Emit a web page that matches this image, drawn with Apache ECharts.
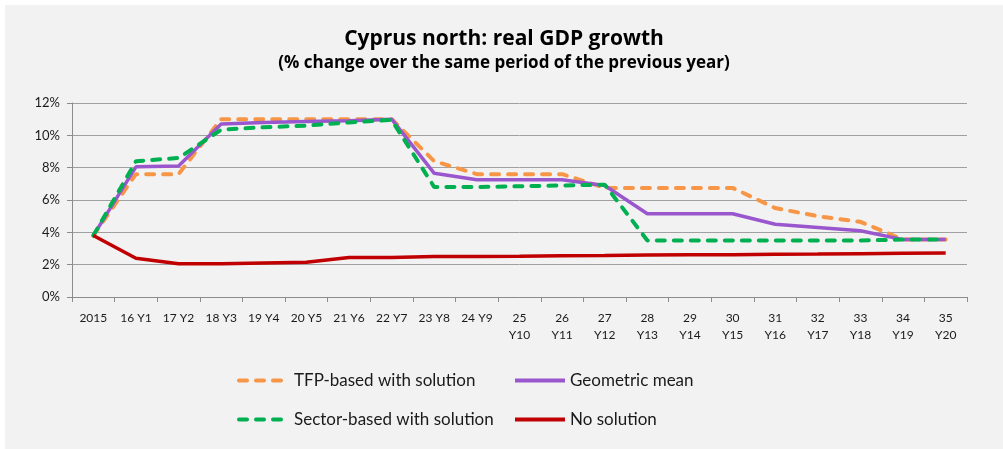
<!DOCTYPE html>
<html>
<head>
<meta charset="utf-8">
<script src="https://cdn.jsdelivr.net/npm/echarts@6/dist/echarts.min.js"></script>
<style>
  html, body { margin: 0; padding: 0; background: #ffffff; }
  #chart { position: absolute; left: 5px; top: 5px; width: 998px; height: 444px; background: #f2f2f2; }
</style>
</head>
<body>
<div id="chart"></div>
<script>
// categories and series (% change y/y)
const years = ['2015', '16 Y1', '17 Y2', '18 Y3', '19 Y4', '20 Y5', '21 Y6', '22 Y7', '23 Y8', '24 Y9',
  '25\nY10', '26\nY11', '27\nY12', '28\nY13', '29\nY14', '30\nY15', '31\nY16', '32\nY17', '33\nY18', '34\nY19', '35\nY20'];
const tfpBased = [3.8, 7.6, 7.6, 11.0, 11.0, 11.0, 11.0, 11.0, 8.4, 7.6, 7.6, 7.6, 6.75, 6.75, 6.75, 6.75, 5.5, 5.0, 4.65, 3.55, 3.55];
const geoMean = [3.8, 8.05, 8.1, 10.7, 10.8, 10.85, 10.9, 11.0, 7.65, 7.25, 7.25, 7.25, 6.9, 5.15, 5.15, 5.15, 4.5, 4.3, 4.1, 3.55, 3.55];
const sectorBased = [3.8, 8.4, 8.6, 10.35, 10.5, 10.6, 10.8, 10.95, 6.8, 6.8, 6.85, 6.9, 6.95, 3.5, 3.5, 3.5, 3.5, 3.5, 3.5, 3.55, 3.55];
const noSolution = [3.8, 2.4, 2.05, 2.05, 2.1, 2.15, 2.45, 2.45, 2.5, 2.5, 2.52, 2.55, 2.57, 2.6, 2.62, 2.62, 2.65, 2.66, 2.68, 2.7, 2.72];
const yTicks = { min: 0, max: 12, interval: 2 };

const font = 'Lato, "Open Sans", sans-serif';
const titleFont = '"Open Sans", Lato, sans-serif';
const myChart = echarts.init(document.getElementById('chart'));

function legendAt (name, left, top) {
  return {
    data: [name],
    left: left,
    top: top,
    padding: 0,
    itemWidth: 50,
    itemHeight: 14,
    itemStyle: { opacity: 0 }, // only the line, no marker
    lineStyle: { width: 4 },
    textStyle: { color: '#1a1a1a', fontSize: 17, fontFamily: font }
  };
}

function lineSeries (name, data, color, dashed) {
  return {
    name: name,
    type: 'line',
    data: data,
    symbol: 'none',
    lineStyle: {
      color: color,
      width: dashed ? 4 : 3.5,
      type: dashed ? [8, 9] : 'solid',
      cap: dashed ? 'round' : 'butt'
    },
    itemStyle: { color: color }
  };
}

myChart.setOption({
  animation: false,
  title: {
    text: 'Cyprus north: real GDP growth',
    subtext: '(% change over the same period of the previous year)',
    left: 'center',
    top: 19,
    itemGap: 5,
    textStyle: { fontSize: 21, fontWeight: 'bold', color: '#000', fontFamily: titleFont },
    subtextStyle: { fontSize: 17, fontWeight: 'bold', color: '#000', fontFamily: titleFont }
  },
  legend: [
    legendAt('TFP-based with solution', 232, 367),
    legendAt('Sector-based with solution', 232, 406),
    legendAt('Geometric mean', 508, 367),
    legendAt('No solution', 508, 406)
  ],
  grid: { left: 67, right: 36, top: 98, bottom: 152, containLabel: false },
  xAxis: {
    type: 'category',
    data: years,
    boundaryGap: true,
    axisLine: { lineStyle: { color: '#8c8c8c', width: 1 } },
    axisTick: { show: true, length: 5, lineStyle: { color: '#8c8c8c' } },
    axisLabel: { interval: 0, margin: 13, color: '#1a1a1a', fontSize: 12, lineHeight: 17, fontFamily: font }
  },
  yAxis: {
    type: 'value',
    min: yTicks.min,
    max: yTicks.max,
    interval: yTicks.interval,
    axisLine: { show: true, lineStyle: { color: '#8c8c8c', width: 1 } },
    axisTick: { show: true, length: 5, lineStyle: { color: '#8c8c8c' } },
    axisLabel: { formatter: '{value}%', margin: 12, color: '#1a1a1a', fontSize: 13, fontFamily: font },
    splitLine: { lineStyle: { color: '#a0a0a0', width: 1 } }
  },
  series: [
    lineSeries('TFP-based with solution', tfpBased, '#f79646', true),
    lineSeries('Geometric mean', geoMean, '#9a57cd', false),
    lineSeries('Sector-based with solution', sectorBased, '#00b050', true),
    lineSeries('No solution', noSolution, '#c00000', false)
  ]
});
</script>
</body>
</html>
